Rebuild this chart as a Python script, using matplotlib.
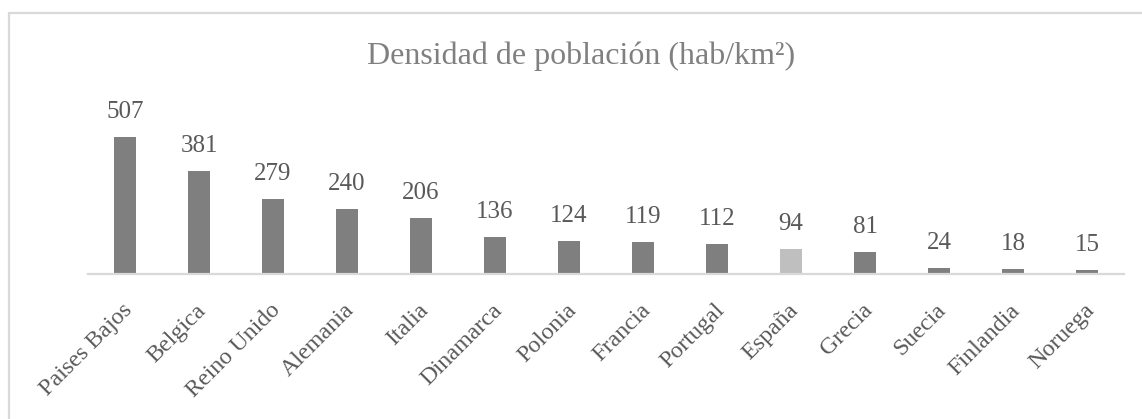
import matplotlib
matplotlib.use("Agg")
import matplotlib.pyplot as plt
import matplotlib.transforms as mtransforms
from matplotlib.patches import Rectangle

countries = ["Paises Bajos", "Belgica", "Reino Unido", "Alemania", "Italia",
             "Dinamarca", "Polonia", "Francia", "Portugal", "España",
             "Grecia", "Suecia", "Finlandia", "Noruega"]
density = [507, 381, 279, 240, 206, 136, 124, 119, 112, 94, 81, 24, 18, 15]
highlight = "España"

title = "Densidad de población (hab/km²)"

plt.rcParams['font.family'] = ['Liberation Serif', 'DejaVu Serif']

W, H = 1142, 419
fig = plt.figure(figsize=(W / 100, H / 100), dpi=100)

# chart border
fig.add_artist(Rectangle((8.5 / W, -0.1), 1.2, (H - 13) / H + 0.1,
                         transform=fig.transFigure, fill=False,
                         edgecolor="#d9d9d9", linewidth=1.6))

ax = fig.add_axes([88 / W, (H - 274) / H, (1124 - 88) / W, 162 / H])
x = list(range(len(countries)))
colors = ["#bfbfbf" if c == highlight else "#7f7f7f" for c in countries]
bars = ax.bar(x, density, width=0.31, color=colors, zorder=2)
ax.set_xlim(-0.5, len(countries) - 0.5)
ax.set_ylim(0, 600)

for xi, v in zip(x, density):
    ax.annotate(str(v), (xi, v), xytext=(0, 10), textcoords="offset points",
                ha="center", va="bottom", fontsize=18, color="#595959")

for s in ["top", "right", "left"]:
    ax.spines[s].set_visible(False)
ax.spines["bottom"].set_color("#d9d9d9")
ax.spines["bottom"].set_linewidth(1.6)
ax.set_yticks([])
ax.set_xticks(x)
ax.set_xticklabels(countries, rotation=45, ha="right", va="center",
                   rotation_mode="anchor", fontsize=17.3, color="#595959")
ax.tick_params(axis="x", length=0, pad=24)
offset = mtransforms.ScaledTranslation(4 / 100, 0, fig.dpi_scale_trans)
for lab in ax.get_xticklabels():
    lab.set_transform(lab.get_transform() + offset)

fig.text(581 / W, (H - 56) / H, title, ha="center", va="center",
         fontsize=23, color="#808080")

fig.savefig("out.png", dpi=100, facecolor="white")
